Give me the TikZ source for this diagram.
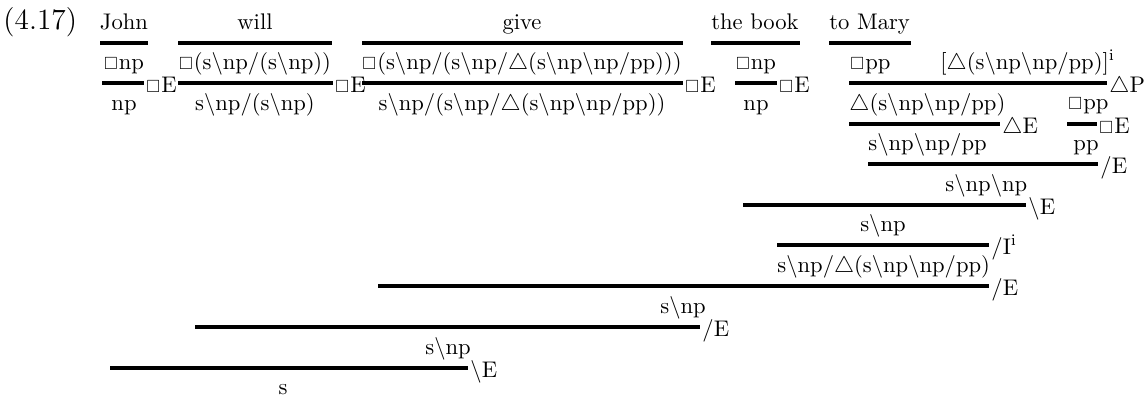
\documentclass[tikz,border=0pt]{standalone}
\usepackage{amssymb}
\usepackage{graphicx}
\usetikzlibrary{positioning}
\newcommand{\bsl}{$\backslash$}
\newcommand{\bx}{\scalebox{0.78}{$\Box$}\kern0.5pt}
\newcommand{\tri}{$\triangle$}

\begin{document}
\begin{tikzpicture}[
  x=0.4425pt,y=-0.4425pt,
  fml/.style={anchor=base,inner sep=0pt},
  fmlL/.style={fml,anchor=base west},
  rulebar/.style={line width=1.4pt},
  rulename/.style={anchor=base west,inner sep=0pt,xshift=0.4pt,yshift=-4pt}
]
\useasboundingbox (0,0) rectangle (1148,398);
\node[fmlL,font=\fontsize{13}{15}\selectfont] (ex) at (3,29) {(4.17)};
\node[fml] (john) at (124,29) {John};
\node[fml] (will) at (255,29) {will};
\node[fml] (give) at (522,29) {give};
\node[fml] (book) at (755,29) {the book};
\node[fmlL] (mary) at (829,29) {to Mary};
\draw[rulebar] (100,43) -- (148,43);
\draw[rulebar] (178,43) -- (332,43);
\draw[rulebar] (362,43) -- (683,43);
\draw[rulebar] (711,43) -- (800,43);
\draw[rulebar] (829,43) -- (911,43);

\node[fml] (p1) at (124,69) {\bx np};
\node[fml] (p2) at (255,69) {\bx(s\bsl np/(s\bsl np))};
\node[fml] (p3) at (522,69) {\bx(s\bsl np/(s\bsl np/\tri(s\bsl np\bsl np/pp)))};
\node[fml] (p4) at (756,69) {\bx np};
\node[fmlL] (p5) at (850,69) {\bx pp};
\node[fmlL] (hyp) at (940,69) {[\tri(s\bsl np\bsl np/pp)]$^{\mathrm{i}}$};
\draw[rulebar] (102,83) -- (144,83) node[rulename] (r1) {\bx E};
\draw[rulebar] (178,83) -- (333,83) node[rulename] (r2) {\bx E};
\draw[rulebar] (362,83) -- (683,83) node[rulename] (r3) {\bx E};
\draw[rulebar] (735,83) -- (777,83) node[rulename] (r4) {\bx E};
\draw[rulebar] (849,83) -- (1107,83) node[rulename] (r5) {\tri P};

\node[fml] (c1) at (124,110) {np};
\node[fml] (c2) at (255,110) {s\bsl np/(s\bsl np)};
\node[fml] (c3) at (522,110) {s\bsl np/(s\bsl np/\tri(s\bsl np\bsl np/pp))};
\node[fml] (c4) at (756,110) {np};
\node[fmlL] (c5) at (849,110) {\tri(s\bsl np\bsl np/pp)};
\node[fmlL] (c6) at (1068,109) {\bx pp};
\draw[rulebar] (849,124) -- (1000,124) node[rulename] (r6) {\tri E};
\draw[rulebar] (1067,124) -- (1097,124) node[rulename] (r7) {\bx E};

\node[fmlL] (d1) at (868,150) {s\bsl np\bsl np/pp};
\node[fml] (d2) at (1086,150) {pp};
\draw[rulebar] (868,164) -- (1098,164) node[rulename] (r8) {/E};

\node[fmlL] (e1) at (945,191) {s\bsl np\bsl np};
\draw[rulebar] (743,205) -- (1026,205) node[rulename] (r9) {\bsl E};

\node[fml] (f1) at (883,231) {s\bsl np};
\draw[rulebar] (777,245) -- (989,245) node[rulename] (r10) {/I$^{\mathrm{i}}$};

\node[fmlL] (g1) at (777,272) {s\bsl np/\tri(s\bsl np\bsl np/pp)};
\draw[rulebar] (378,286) -- (989,286) node[rulename] (r11) {/E};

\node[fmlL] (h1) at (660,313) {s\bsl np};
\draw[rulebar] (195,327) -- (700,327) node[rulename] (r12) {/E};

\node[fmlL] (k1) at (425,354) {s\bsl np};
\draw[rulebar] (110,368) -- (468,368) node[rulename] (r13) {\bsl E};

\node[fml] (top) at (283,394) {s};
\end{tikzpicture}
\end{document}
